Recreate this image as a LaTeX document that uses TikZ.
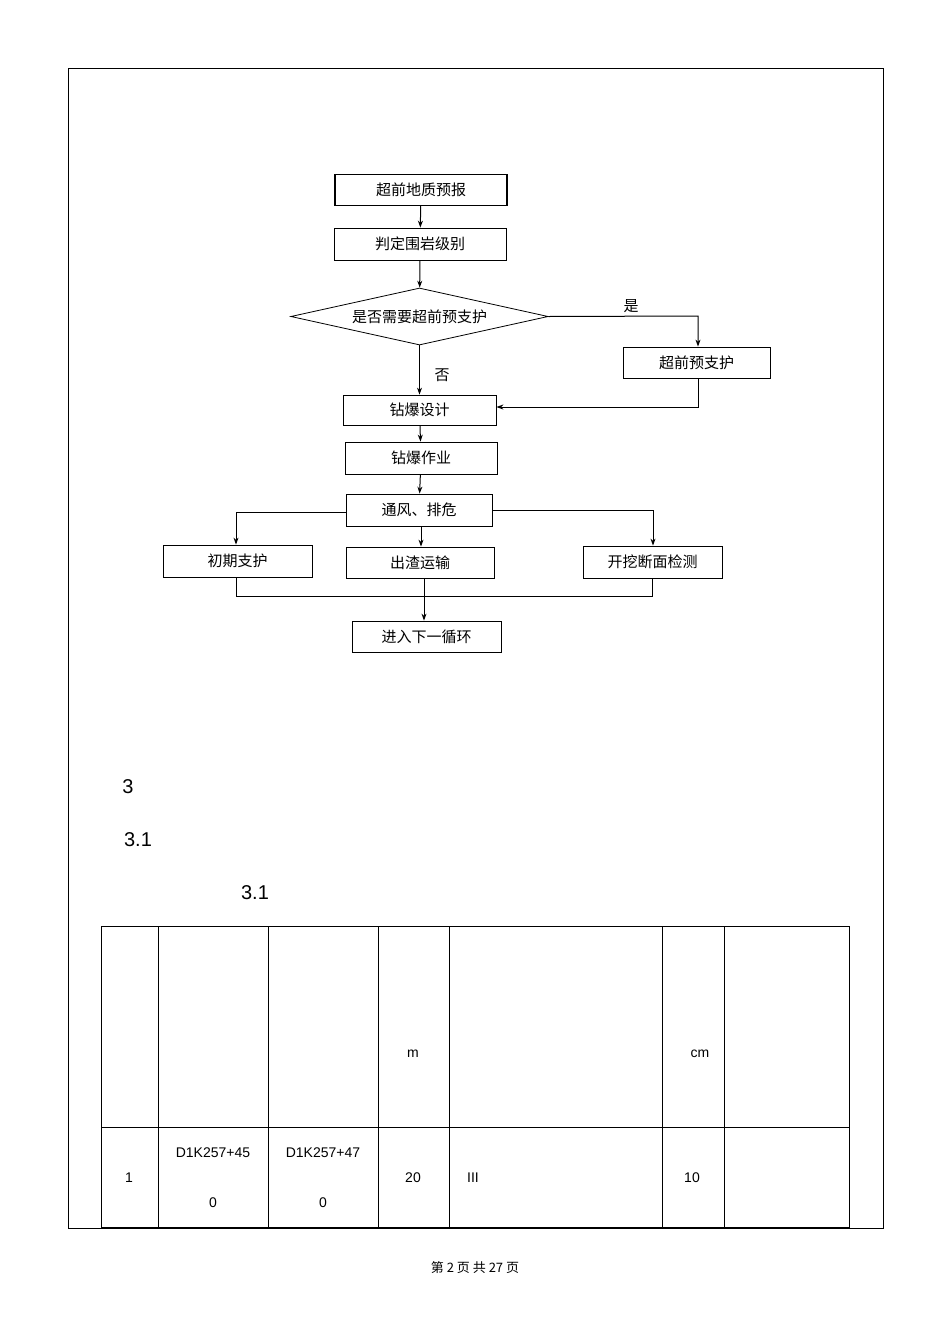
\documentclass[tikz,border=0pt]{standalone}
\usepackage{fontspec}
\setmainfont{Liberation Sans}
\newfontfamily\cjk{Noto Sans CJK SC}
\usetikzlibrary{arrows.meta,shapes.geometric}
\begin{document}
\begin{tikzpicture}[x=1pt,y=-1pt,
  box/.style={draw,line width=0.8pt,minimum height=31pt,inner sep=0pt,font=\cjk\fontsize{15}{15}\selectfont},
  arr/.style={line width=1pt,-{Stealth[length=7pt,width=5pt]}},
  ln/.style={line width=0.8pt},
  lab/.style={font=\cjk\fontsize{15}{15}\selectfont},
  tx/.style={font=\fontsize{14}{14}\selectfont},
  hd/.style={font=\fontsize{20}{20}\selectfont}]
\useasboundingbox (0,0) rectangle (950,1344);
\draw[ln] (68,68) rectangle (883,1228);
% flowchart
\node[box,minimum width=172pt,line width=1.2pt] (a) at (421,190) {超前地质预报};
\node[box,minimum width=172pt,minimum height=32pt] (b) at (420,244) {判定围岩级别};
\node[draw,line width=0.8pt,diamond,aspect=8.8,minimum width=255pt,minimum height=57pt,inner sep=0pt,font=\cjk\fontsize{15}{15}\selectfont] (c) at (419.5,316.5) {是否需要超前预支护};
\node[box,minimum width=147pt] (d) at (696.5,362.5) {超前预支护};
\node[box,minimum width=153pt,minimum height=30pt] (e) at (419.5,410) {钻爆设计};
\node[box,minimum width=152pt,minimum height=32pt] (f) at (421,458) {钻爆作业};
\node[box,minimum width=146pt,minimum height=32pt] (g) at (419,510) {通风、排危};
\node[box,minimum width=149pt,minimum height=32pt] (h) at (237.5,561) {初期支护};
\node[box,minimum width=148pt] (i) at (420,562.5) {出渣运输};
\node[box,minimum width=139pt,minimum height=32pt] (j) at (652.5,562) {开挖断面检测};
\node[box,minimum width=149pt] (k) at (426.5,636.5) {进入下一循环};
\draw[arr] (a) -- (b);
\draw[arr] (b) -- (c);
\draw[arr] (c.east) -- (698,316) -- (d.north -| 698,0);
\node[lab] at (631,306) {是};
\draw[arr] (c.south) -- (e.north -| c.south);
\node[lab] at (442,375) {否};
\draw[arr] (d.south -| 698,0) -- (698,407) -- (e.east |- 0,407);
\draw[arr] (e) -- (f);
\draw[arr] (f) -- (g);
\draw[arr] (g.west |- 0,512) -- (236,512) -- (h.north -| 236,0);
\draw[arr] (g.south -| 421,0) -- (i.north -| 421,0);
\draw[arr] (g.east |- 0,510) -- (653,510) -- (j.north -| 653,0);
\coordinate (m) at (424,596);
\draw[ln] (h.south -| 236,0) -- (236,596) -- (652,596) -- (j.south -| 652,0);
\draw[arr] (i.south -| 424,0) -- (k.north -| 424,0);
% headings
\node[hd] at (128,787) {3};
\node[hd] at (138,840) {3.1};
\node[hd] at (255,893) {3.1};
% table
\draw[ln] (101,926) rectangle (849,1227);
\draw[ln] (101,1127) -- (849,1127);
\foreach \x in {158,268,378,449,662,724} \draw[ln] (\x,926) -- (\x,1227);
\node[tx] at (413,1054) {m};
\node[tx] at (700,1054) {cm};
\node[tx] at (129,1178) {1};
\node[tx] at (213,1153) {D1K257+45};
\node[tx] at (213,1203) {0};
\node[tx] at (323,1153) {D1K257+47};
\node[tx] at (323,1203) {0};
\node[tx] at (413,1178) {20};
\node[tx] at (473,1178) {III};
\node[tx] at (692,1178) {10};
\node[font=\cjk\fontsize{13}{13}\selectfont] at (475,1268) {第 2 页 共 27 页};
\end{tikzpicture}
\end{document}
